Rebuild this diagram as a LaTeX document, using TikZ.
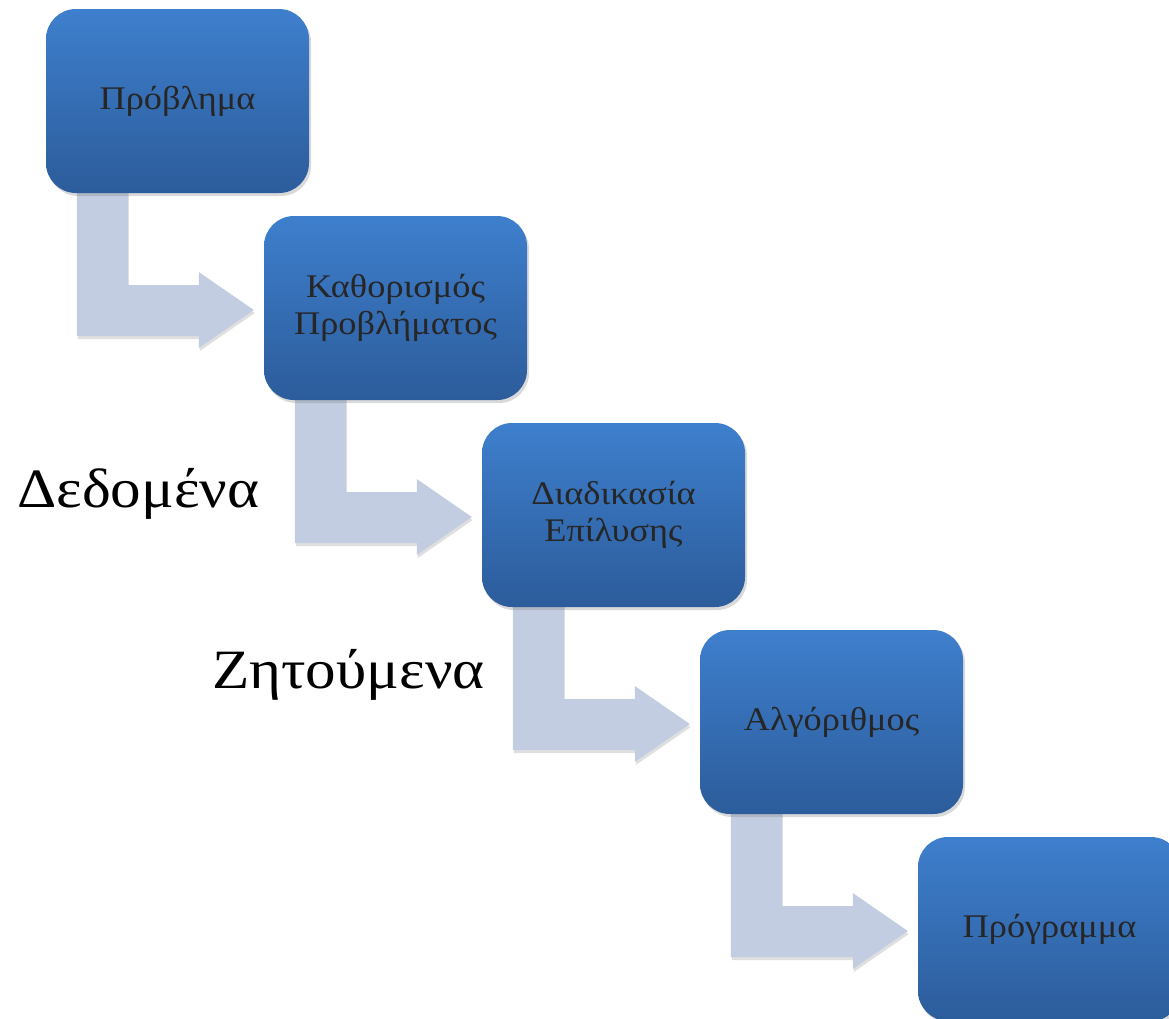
\documentclass[tikz,border=0pt]{standalone}
\usepackage{fontspec}
\setmainfont[FakeStretch=1.1]{Liberation Serif}
\usetikzlibrary{shadows,calc}
\pgfdeclarelayer{background}
\pgfsetlayers{background,main}
\definecolor{boxtop}{RGB}{62,127,205}
\definecolor{boxbot}{RGB}{44,92,155}
\definecolor{arrowfill}{RGB}{195,205,225}
\definecolor{boxtext}{RGB}{38,38,38}
\tikzset{
  stagebox/.style={rectangle, rounded corners=30pt, minimum width=263pt, minimum height=184pt,
    top color=boxtop, bottom color=boxbot, text=boxtext,
    font=\fontsize{33}{37}\selectfont, align=center, inner sep=0pt,
    drop shadow={opacity=0.3, shadow xshift=2pt, shadow yshift=-3pt}},
  bentarrow/.style={fill=arrowfill, drop shadow={opacity=0.25, shadow xshift=1pt, shadow yshift=-3pt}},
  biglabel/.style={font=\fontsize{55.5}{60}\selectfont, text=black, anchor=base west, inner sep=0pt}
}
\newcommand\stagearrow[2]{%
  \path[bentarrow] let \p1=(#1.south west), \p2=($(#2.west)+(-10,2)$) in
    (\x1+31pt,\y1+7pt) -- (\x1+82pt,\y1+7pt) -- (\x1+82pt,\y2+25pt) --
    (\x2-55pt,\y2+25pt) -- (\x2-55pt,\y2+38pt) -- (\x2,\y2) --
    (\x2-55pt,\y2-38pt) -- (\x2-55pt,\y2-26pt) -- (\x1+31pt,\y2-26pt) -- cycle;}
\begin{document}
\begin{tikzpicture}[x=1pt,y=-1pt]
\useasboundingbox (0,0) rectangle (1169,1018);
\node[stagebox] (b1) at (177.5,101) {Πρόβλημα};
\node[stagebox] (b2) at (395.5,308) {Καθορισμός\\Προβλήματος};
\node[stagebox] (b3) at (613.5,515) {Διαδικασία\\Επίλυσης};
\node[stagebox] (b4) at (831.5,722) {Αλγόριθμος};
\node[stagebox] (b5) at (1049.5,929) {Πρόγραμμα};
\begin{pgfonlayer}{background}
\stagearrow{b1}{b2}
\stagearrow{b2}{b3}
\stagearrow{b3}{b4}
\stagearrow{b4}{b5}
\end{pgfonlayer}
\node[biglabel] (dedomena) at (17,507) {Δεδομένα};
\node[biglabel] (zitoumena) at (212,688) {Ζητούμενα};
\end{tikzpicture}
\end{document}
